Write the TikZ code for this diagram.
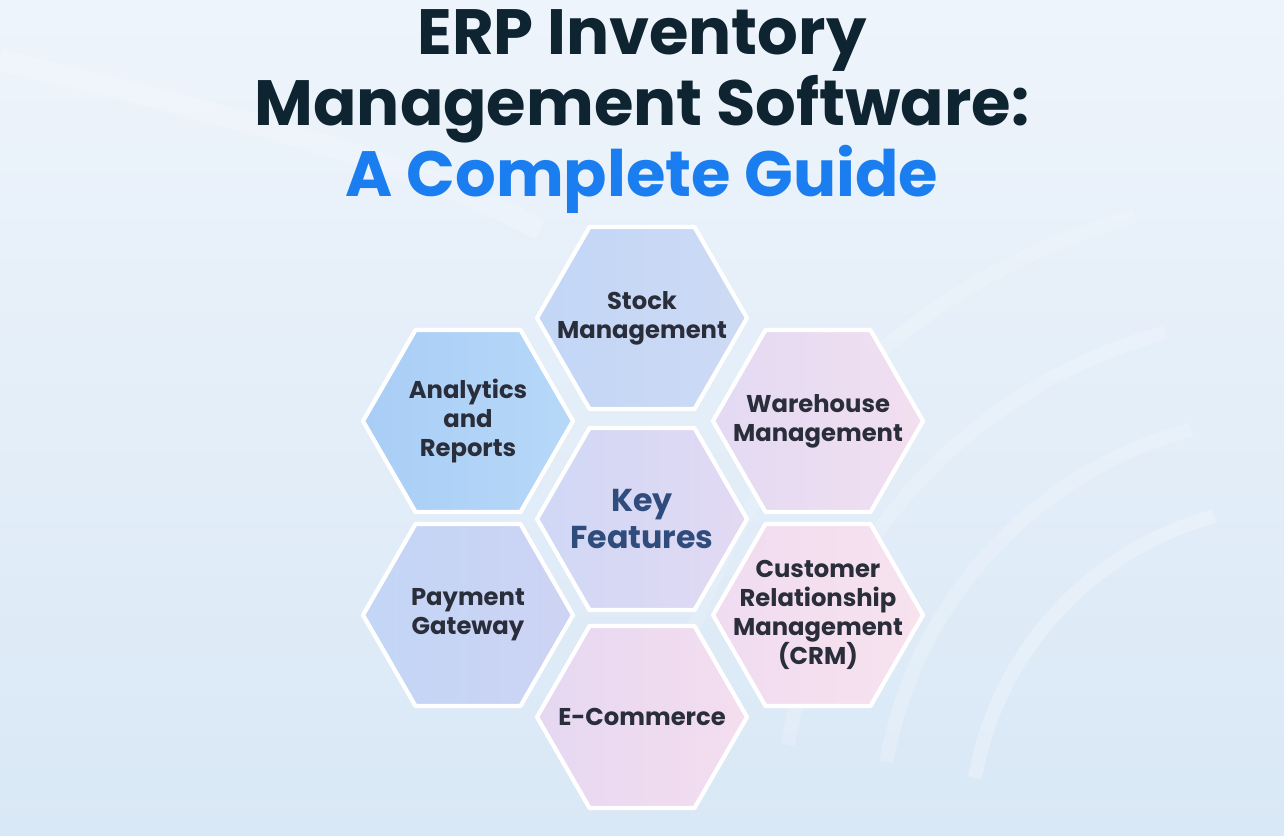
\documentclass[tikz,border=0pt]{standalone}
\usepackage{fontspec}
\setmainfont{Poppins}
\usetikzlibrary{positioning,calc}
\definecolor{bgA}{HTML}{EEF4FB}
\definecolor{bgB}{HTML}{D9E8F6}
\definecolor{navy}{HTML}{0E2431}
\definecolor{brand}{HTML}{1A7EF0}
\definecolor{label}{HTML}{2A2D3A}
\definecolor{keyblue}{HTML}{2F4C7C}
\tikzset{
  hexcell/.style={draw=white, line width=1.2pt, line join=round},
  hextext/.style={font=\bfseries\fontsize{6.9}{8.3}\selectfont, text=label, align=center},
}
\newcommand{\hexat}[4]{% centre, name, left colour, right colour
  \coordinate (#2) at #1;
  \definecolor{#2L}{HTML}{#3}\definecolor{#2R}{HTML}{#4}%
  \path[hexcell, left color=#2L, right color=#2R]
    ($(#2)+(-105,0)$) -- ($(#2)+(-52.5,91)$) -- ($(#2)+(52.5,91)$) --
    ($(#2)+(105,0)$) -- ($(#2)+(52.5,-91)$) -- ($(#2)+(-52.5,-91)$) -- cycle;
}
\begin{document}
\begin{tikzpicture}[x=0.01cm,y=-0.01cm]
  % background
  \path[top color=bgA, bottom color=bgB] (0,0) rectangle (1284,835);
  \useasboundingbox (0,0) rectangle (1284,835);
  \foreach \r/\o in {330/25,420/20,520/18,640/15} {
    \draw[white, opacity=\o/100, line width=4pt] (1300,835) ++(190:\r) arc (190:255:\r);
  }
  \draw[white, opacity=0.2, line width=6pt] (0,60) .. controls (300,130) and (450,180) .. (540,230);

  % title
  \node[font=\bfseries\fontsize{18.2}{16}\selectfont, text=navy, align=center] (title) at (642,76)
    {ERP Inventory\\Management Software:};
  \node[font=\bfseries\fontsize{18.2}{16}\selectfont, text=brand, below=-2.2mm of title] (subtitle) {A Complete Guide};

  % cells
  \hexat{(642,318)}{stock}{C2D6F6}{CDDAF4}
  \hexat{(468,421)}{analytics}{A9CDF6}{B6D8F8}
  \hexat{(818,421)}{warehouse}{E3DAF3}{F2DFF0}
  \hexat{(642,519)}{key}{CFD8F5}{E3D9F3}
  \hexat{(468,615)}{payment}{C3D6F6}{CDD3F3}
  \hexat{(818,615)}{crm}{F0DCF1}{F7E2EE}
  \hexat{(642,717)}{ecom}{E6D8F2}{F4DDEF}

  % labels
  \node[hextext] (stockT) at (stock) {Stock\\Management};
  \node[hextext] (analyticsT) at (analytics) {Analytics\\and\\Reports};
  \node[hextext] (warehouseT) at (warehouse) {Warehouse\\Management};
  \node[hextext, font=\bfseries\fontsize{9}{10.5}\selectfont, text=keyblue] (keyT) at (key) {Key\\Features};
  \node[hextext] (paymentT) at (payment) {Payment\\Gateway};
  \node[hextext] (crmT) at (crm) {Customer\\Relationship\\Management\\(CRM)};
  \node[hextext] (ecomT) at (ecom) {E-Commerce};
\end{tikzpicture}
\end{document}
